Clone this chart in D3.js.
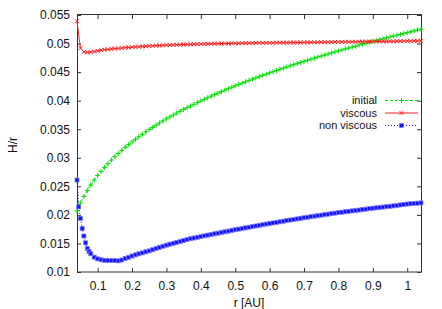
<!DOCTYPE html>
<meta charset="utf-8">
<style>
  body { margin: 0; background: #fff; }
  text { font-family: "Liberation Sans", Arial, sans-serif; font-size: 12px; fill: #111; }
  .axis line { stroke: #333; }
  .frame { fill: none; stroke: #333; stroke-width: 1px; }
  .legend text { font-size: 11px; }
</style>
<body>
<script src="https://d3js.org/d3.v7.min.js"></script>
<script>
  // radius grid (AU) shared by "initial" and "viscous"
  var rGrid = [0.04,0.05,0.06,0.07,0.08,0.09,0.10,0.11,0.12,0.13,0.14,0.15,0.16,0.17,0.18,0.19,0.20,
    0.21,0.22,0.23,0.24,0.25,0.26,0.27,0.28,0.29,0.30,0.31,0.32,0.33,0.34,0.35,0.36,0.37,0.38,0.39,0.40,
    0.41,0.42,0.43,0.44,0.45,0.46,0.47,0.48,0.49,0.50,0.51,0.52,0.53,0.54,0.55,0.56,0.57,0.58,0.59,0.60,
    0.61,0.62,0.63,0.64,0.65,0.66,0.67,0.68,0.69,0.70,0.71,0.72,0.73,0.74,0.75,0.76,0.77,0.78,0.79,0.80,
    0.81,0.82,0.83,0.84,0.85,0.86,0.87,0.88,0.89,0.90,0.91,0.92,0.93,0.94,0.95,0.96,0.97,0.98,0.99,1.00,
    1.01,1.02,1.03,1.04];

  var hInitial = [0.02069,0.02206,0.02324,0.02428,0.02523,0.02609,0.02689,0.02763,0.02832,0.02898,0.02960,
    0.03019,0.03075,0.03129,0.03181,0.03230,0.03278,0.03324,0.03368,0.03411,0.03453,0.03493,0.03532,0.03571,
    0.03608,0.03645,0.03680,0.03715,0.03749,0.03782,0.03814,0.03846,0.03877,0.03907,0.03937,0.03966,0.03996,
    0.04024,0.04052,0.04079,0.04106,0.04132,0.04158,0.04184,0.04209,0.04234,0.04259,0.04283,0.04306,0.04330,
    0.04353,0.04376,0.04398,0.04421,0.04443,0.04465,0.04486,0.04507,0.04528,0.04549,0.04570,0.04590,0.04610,
    0.04630,0.04650,0.04669,0.04688,0.04707,0.04726,0.04745,0.04763,0.04781,0.04800,0.04817,0.04835,0.04853,
    0.04871,0.04888,0.04905,0.04922,0.04939,0.04956,0.04972,0.04989,0.05005,0.05021,0.05037,0.05053,0.05069,
    0.05085,0.05100,0.05115,0.05131,0.05146,0.05161,0.05176,0.05191,0.05206,0.05220,0.05235,0.05250];

  var hViscous = [0.0539,0.0492,0.04855,0.04845,0.04850,0.04860,0.04872,0.04884,0.04893,0.04898,0.04906,
    0.04912,0.04915,0.04922,0.04928,0.04931,0.04937,0.04941,0.04944,0.04950,0.04953,0.04957,0.04960,0.04963,
    0.04966,0.04968,0.04972,0.04974,0.04976,0.04979,0.04980,0.04983,0.04985,0.04986,0.04988,0.04990,0.04991,
    0.04993,0.04994,0.04996,0.04997,0.04999,0.05000,0.05001,0.05002,0.05003,0.05004,0.05005,0.05006,0.05007,
    0.05008,0.05009,0.05010,0.05011,0.05012,0.05011,0.05012,0.05013,0.05014,0.05015,0.05015,0.05016,0.05017,
    0.05018,0.05018,0.05019,0.05020,0.05021,0.05021,0.05022,0.05023,0.05024,0.05024,0.05025,0.05026,0.05027,
    0.05027,0.05028,0.05029,0.05030,0.05030,0.05031,0.05032,0.05033,0.05034,0.05034,0.05035,0.05036,0.05037,
    0.05038,0.05038,0.05039,0.05040,0.05041,0.05042,0.05043,0.05044,0.05045,0.05046,0.05047,0.05048];

  // "non viscous" has a finer grid near the inner edge
  var rNonViscous = [0.04,0.045,0.05,0.055,0.06,0.065,0.07,0.075,0.08,0.09,0.10,0.11,0.12,0.13,0.14,0.15,
    0.16,0.17,0.18,0.19,0.20,0.21,0.22,0.23,0.24,0.25,0.26,0.27,0.28,0.29,0.30,0.31,0.32,0.33,0.34,0.35,
    0.36,0.37,0.38,0.39,0.40,0.41,0.42,0.43,0.44,0.45,0.46,0.47,0.48,0.49,0.50,0.51,0.52,0.53,0.54,0.55,
    0.56,0.57,0.58,0.59,0.60,0.61,0.62,0.63,0.64,0.65,0.66,0.67,0.68,0.69,0.70,0.71,0.72,0.73,0.74,0.75,
    0.76,0.77,0.78,0.79,0.80,0.81,0.82,0.83,0.84,0.85,0.86,0.87,0.88,0.89,0.90,0.91,0.92,0.93,0.94,0.95,
    0.96,0.97,0.98,0.99,1.00,1.01,1.02,1.03,1.04];

  var hNonViscous = [0.0261,0.0214,0.0194,0.0176,0.0163,0.0151,0.0141,0.0136,0.0132,0.0126,0.0123,0.01215,
    0.01205,0.0120,0.0120,0.0120,0.01195,0.0121,0.01235,0.01258,0.0128,0.01300,0.01318,0.01335,0.01353,0.0137,
    0.01390,0.01411,0.01432,0.01451,0.0147,0.01487,0.01503,0.01519,0.01535,0.0155,0.01567,0.01583,0.01595,
    0.01608,0.0162,0.01633,0.01645,0.01657,0.01669,0.0168,0.01692,0.01704,0.01716,0.01728,0.0174,0.01751,
    0.01762,0.01773,0.01784,0.01795,0.01806,0.01817,0.01828,0.01839,0.01849,0.01859,0.01869,0.01879,0.01889,
    0.0190,0.0191,0.0192,0.0193,0.0194,0.0195,0.01959,0.01968,0.01977,0.01986,0.01995,0.02004,0.02013,0.02022,
    0.02031,0.0204,0.02047,0.02055,0.02062,0.02070,0.02077,0.02085,0.02093,0.02101,0.0211,0.02117,0.02124,
    0.02131,0.02137,0.02144,0.0215,0.02158,0.02166,0.02174,0.02182,0.0219,0.02195,0.022,0.02205,0.0221];

  var xTicks = [0.1,0.2,0.3,0.4,0.5,0.6,0.7,0.8,0.9,1];
  var yTicks = [0.01,0.015,0.02,0.025,0.03,0.035,0.04,0.045,0.05,0.055];
  var seriesNames = ["initial", "viscous", "non viscous"];

  var margin = { top: 15, right: 21, bottom: 37, left: 77 },
    width = 442 - margin.left - margin.right,
    height = 309 - margin.top - margin.bottom;

  var svg = d3.select("body").append("svg")
    .attr("width", 442)
    .attr("height", 309);

  var g = svg.append("g")
    .attr("transform", "translate(" + margin.left + "," + margin.top + ")");

  var x = d3.scaleLinear().domain([0.04, 1.04]).range([0, width]);
  var y = d3.scaleLinear().domain([0.01, 0.055]).range([height, 0]);

  // axes, gnuplot style: ticks inside, mirrored on top and right
  g.append("g").attr("class", "axis")
    .attr("transform", "translate(0," + height + ")")
    .call(d3.axisBottom(x).tickValues(xTicks).tickSize(-4).tickPadding(9)
      .tickFormat(function (d) { return String(d); }))
    .call(function (a) { a.select(".domain").remove(); })
    .selectAll("text").style("font-size", "12px").style("font-family", null);

  g.append("g").attr("class", "axis")
    .call(d3.axisTop(x).tickValues(xTicks).tickSize(-4).tickFormat(""))
    .call(function (a) { a.select(".domain").remove(); });

  g.append("g").attr("class", "axis")
    .call(d3.axisLeft(y).tickValues(yTicks).tickSize(-4).tickPadding(7)
      .tickFormat(function (d) { return String(+d.toFixed(3)); }))
    .call(function (a) { a.select(".domain").remove(); })
    .selectAll("text").style("font-size", "12px").style("font-family", null);

  g.append("g").attr("class", "axis")
    .attr("transform", "translate(" + width + ",0)")
    .call(d3.axisRight(y).tickValues(yTicks).tickSize(-4).tickFormat(""))
    .call(function (a) { a.select(".domain").remove(); });

  g.append("rect").attr("class", "frame")
    .attr("x", 0.5).attr("y", -0.5)
    .attr("width", width).attr("height", height + 0.5);

  // axis labels
  svg.append("text")
    .attr("x", 249).attr("y", 307)
    .attr("text-anchor", "middle")
    .text("r [AU]");

  svg.append("text")
    .attr("transform", "translate(17,145) rotate(-90)")
    .attr("text-anchor", "middle")
    .text("H/r");

  var line = d3.line()
    .x(function (d) { return x(d[0]); })
    .y(function (d) { return y(d[1]); });

  var initialPts = rGrid.map(function (r, i) { return [r, hInitial[i]]; });
  var viscousPts = rGrid.map(function (r, i) { return [r, hViscous[i]]; });
  var nonViscousPts = rNonViscous.map(function (r, i) { return [r, hNonViscous[i]]; });

  // marker shapes
  function plus(px, py) { var s = 2.5; return "M" + (px - s) + "," + py + "H" + (px + s) + "M" + px + "," + (py - s) + "V" + (py + s); }
  function cross(px, py) { var s = 2; return "M" + (px - s) + "," + (py - s) + "L" + (px + s) + "," + (py + s) + "M" + (px - s) + "," + (py + s) + "L" + (px + s) + "," + (py - s); }

  // initial: green dashed, "+" points
  g.append("path").datum(initialPts)
    .attr("d", line).attr("fill", "none")
    .attr("stroke", "#00e000").attr("stroke-width", 1).attr("stroke-dasharray", "3,2");
  g.append("path")
    .attr("d", initialPts.map(function (d) { return plus(x(d[0]), y(d[1])); }).join(""))
    .attr("stroke", "#00e000").attr("stroke-width", 1).attr("fill", "none");

  // viscous: red solid, "x" points
  g.append("path").datum(viscousPts)
    .attr("d", line).attr("fill", "none")
    .attr("stroke", "#ff2020").attr("stroke-width", 1);
  g.append("path")
    .attr("d", viscousPts.map(function (d) { return cross(x(d[0]), y(d[1])); }).join(""))
    .attr("stroke", "#ff2020").attr("stroke-width", 1).attr("fill", "none");

  // non viscous: blue dotted, filled squares
  g.append("path").datum(nonViscousPts)
    .attr("d", line).attr("fill", "none")
    .attr("stroke", "#0000ff").attr("stroke-width", 1).attr("stroke-dasharray", "1,2");
  g.selectAll(".sq").data(nonViscousPts).enter().append("rect")
    .attr("x", function (d) { return x(d[0]) - 2; })
    .attr("y", function (d) { return y(d[1]) - 2; })
    .attr("width", 4).attr("height", 4)
    .attr("fill", "#1010ff").attr("stroke", "#7a7aff").attr("stroke-width", 0.8);

  // legend
  var legend = svg.append("g").attr("class", "legend");
  seriesNames.forEach(function (name, i) {
    var ly = 100.5 + i * 12.5;
    legend.append("text")
      .attr("x", 377).attr("y", ly).attr("dy", "0.35em")
      .attr("text-anchor", "end").text(name);
    var ln = legend.append("line")
      .attr("x1", 385).attr("x2", 418).attr("y1", ly).attr("y2", ly)
      .attr("stroke-width", 1);
    if (i === 0) {
      ln.attr("stroke", "#00e000").attr("stroke-dasharray", "3,2");
      legend.append("path").attr("d", plus(401.5, ly)).attr("stroke", "#00e000");
    } else if (i === 1) {
      ln.attr("stroke", "#ff2020");
      legend.append("path").attr("d", cross(401.5, ly)).attr("stroke", "#ff2020");
    } else {
      ln.attr("stroke", "#0000ff").attr("stroke-dasharray", "1,2");
      legend.append("rect").attr("x", 399.5).attr("y", ly - 2).attr("width", 4).attr("height", 4)
        .attr("fill", "#1010ff").attr("stroke", "#7a7aff").attr("stroke-width", 0.8);
    }
  });
</script>
</body>
